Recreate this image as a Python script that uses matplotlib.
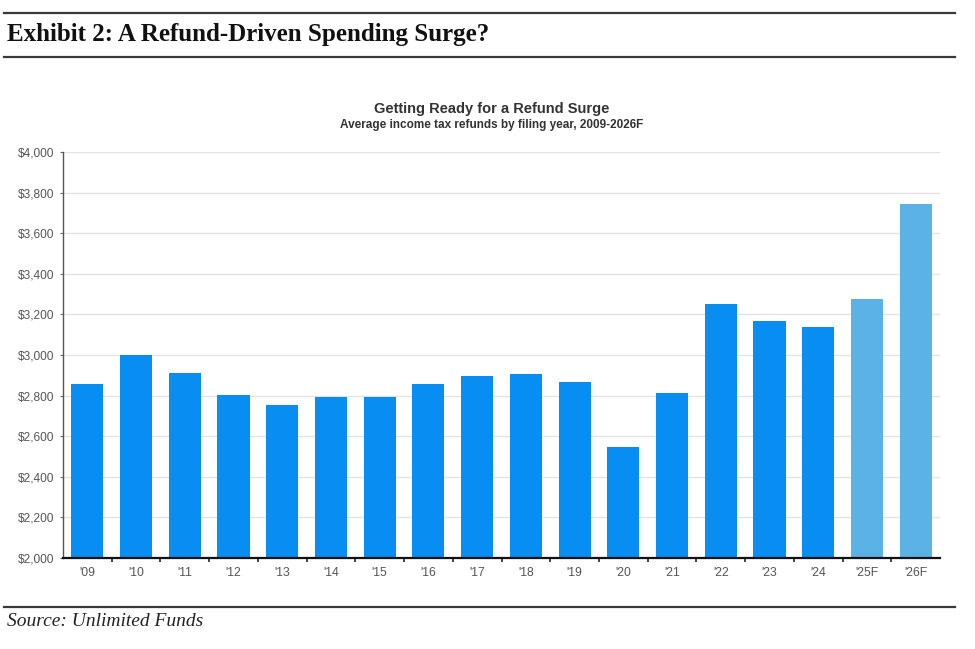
import matplotlib
matplotlib.use("Agg")
import matplotlib.pyplot as plt
from matplotlib.lines import Line2D
import numpy as np

years = ["'09", "'10", "'11", "'12", "'13", "'14", "'15", "'16", "'17", "'18",
         "'19", "'20", "'21", "'22", "'23", "'24", "'25F", "'26F"]
refunds = [2855, 3002, 2910, 2803, 2753, 2791, 2795, 2858, 2896, 2907,
           2869, 2546, 2811, 3250, 3166, 3136, 3275, 3745]
is_forecast = [False] * 16 + [True, True]
yticks = [2000, 2200, 2400, 2600, 2800, 3000, 3200, 3400, 3600, 3800, 4000]

W, H = 975, 649
fig = plt.figure(figsize=(W / 100, H / 100), dpi=100)
fig.patch.set_facecolor("white")

def fx(px):
    return px / W

def fy(py):
    return 1 - py / H

# Header / footer rules
for yy in (12.5, 56.5, 606.5):
    fig.add_artist(Line2D([fx(4), fx(955)], [fy(yy), fy(yy)], color="#3a3a3a",
                          lw=1.6, transform=fig.transFigure))

fig.text(fx(7), fy(34), "Exhibit 2: A Refund-Driven Spending Surge?",
         fontfamily="Liberation Serif", fontweight="bold", fontsize=18,
         color="#111111", ha="left", va="center")
fig.text(fx(7), fy(622), "Source: Unlimited Funds",
         fontfamily="Liberation Serif", fontstyle="italic", fontsize=14,
         color="#222222", ha="left", va="center")

fig.text(fx(492), fy(108.5), "Getting Ready for a Refund Surge",
         fontfamily="Liberation Sans", fontweight="bold", fontsize=10.5,
         color="#333333", ha="center", va="center")
fig.text(fx(492), fy(125), "Average income tax refunds by filing year, 2009-2026F",
         fontfamily="Liberation Sans", fontweight="bold", fontsize=8.5,
         color="#333333", ha="center", va="center")

left, right, top, bottom = 63, 940, 152.3, 557.7
ax = fig.add_axes([fx(left), fy(bottom), fx(right - left), (bottom - top) / H])

x = np.arange(len(years))
colors = ["#5ab2e6" if f else "#088ef2" for f in is_forecast]
ax.bar(x, [v - 2000 for v in refunds], bottom=2000, width=0.66, color=colors,
       zorder=3, linewidth=0)

ax.set_xlim(-0.5, len(years) - 0.5)
ax.set_ylim(2000, 4000)
ax.set_yticks(yticks)
ax.set_yticklabels([f"${v:,}" for v in yticks], fontfamily="Liberation Sans",
                   fontsize=8.6, color="#555555")
ax.set_xticks(x)
ax.set_xticklabels(years, fontfamily="Liberation Sans", fontsize=8.8, color="#555555")
ax.tick_params(axis="x", which="major", length=0, pad=7)
ax.set_xticks(np.arange(-0.5, len(years) - 0.5 + 0.01, 1.0)[1:-1], minor=True)
ax.tick_params(axis="x", which="minor", length=3, width=1.2, color="#222222", direction="out")
ax.tick_params(axis="y", length=2, width=0.8, color="#666666", pad=4)

ax.grid(axis="y", color="#e3e3e3", lw=1.0, zorder=0)
for s in ("top", "right"):
    ax.spines[s].set_visible(False)
ax.spines["left"].set_color("#555555")
ax.spines["left"].set_linewidth(1.0)
ax.spines["bottom"].set_color("#111111")
ax.spines["bottom"].set_linewidth(1.6)
ax.spines["bottom"].set_zorder(4)

fig.savefig("out.png", dpi=100, facecolor="white")
